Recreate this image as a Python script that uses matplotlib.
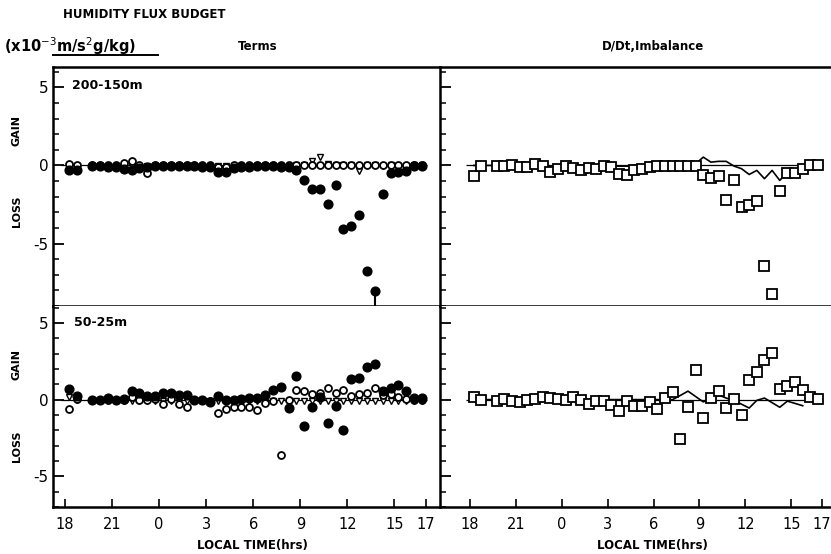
import matplotlib
matplotlib.use('Agg')
import matplotlib.pyplot as plt
import numpy as np
from matplotlib.ticker import MultipleLocator, FixedLocator
from matplotlib.lines import Line2D

# hours since 18 local time
hours = [0.25, 0.75, 1.75, 2.25, 2.75, 3.25, 3.75, 4.25, 4.75, 5.25, 5.75,
         6.25, 6.75, 7.25, 7.75, 8.25, 8.75, 9.25, 9.75, 10.25, 10.75, 11.25,
         11.75, 12.25, 12.75, 13.25, 13.75, 14.25, 14.75, 15.25, 15.75, 16.25,
         16.75, 17.25, 17.75, 18.25, 18.75, 19.25, 19.75, 20.25, 20.75, 21.25,
         21.75, 22.25, 22.75]
tick_pos = [0, 3, 6, 9, 12, 15, 18, 21, 23]
tick_labels = ['18', '21', '0', '3', '6', '9', '12', '15', '17']

# ---- 200-150m, terms ----
filled_top = [-0.3, -0.3, -0.05, -0.05, -0.1, -0.1, -0.25, -0.3, -0.15, -0.1, -0.05,
              -0.05, -0.05, -0.05, -0.05, -0.05, -0.1, -0.1, -0.45, -0.45, -0.15, -0.1,
              -0.1, -0.05, -0.05, -0.05, -0.1, -0.1, -0.3, -0.92, -1.54, -1.5,
              -2.5, -1.24, -4.1, -3.85, -3.2, -6.77, -8.06, -1.82, -0.5, -0.45,
              -0.35, -0.05, -0.05]
open_top = [0.1, 0.05, 0.0, 0.0, 0.0, 0.05, 0.15, 0.28, 0.0, -0.5, 0.0,
            0.0, 0.0, 0.0, 0.0, 0.0, 0.0, 0.0, -0.1, -0.1, 0.0, 0.0,
            0.0, 0.0, 0.0, 0.0, 0.0, 0.0, 0.0, 0.05, 0.05, 0.05,
            0.05, 0.05, 0.05, 0.05, 0.05, 0.05, 0.05, 0.0, 0.0, 0.0,
            0.0, 0.0, 0.0]
tri_top = [-0.05, -0.05, -0.05, -0.05, -0.05, -0.05, -0.05, -0.05, -0.05, -0.05, -0.05,
           -0.05, -0.05, -0.05, -0.05, -0.05, -0.05, -0.05, -0.05, -0.05, -0.05, -0.05,
           -0.05, -0.05, -0.05, -0.05, -0.05, -0.05, 0.0, 0.05, 0.3, 0.55,
           0.1, 0.0, 0.0, 0.0, -0.35, 0.0, 0.0, -0.05, 0.0, -0.05,
           -0.05, 0.0, 0.0]

# ---- 200-150m, D/Dt and imbalance ----
ddt_top = [0.0, 0.0, 0.0, 0.05, 0.0, 0.0, 0.05, 0.05, 0.0, -0.05, 0.0,
           0.0, 0.0, 0.0, 0.0, 0.0, 0.0, 0.0, -0.05, -0.05, 0.0, 0.0,
           0.0, 0.0, 0.0, 0.0, 0.0, 0.0, 0.1, 0.53, 0.21, 0.26,
           0.26, -0.04, -0.21, -0.58, -0.32, -0.85, -0.32, -0.96, -0.43, -0.3,
           -0.2, 0.0, 0.0]
imb_top = [-0.7, -0.06, -0.06, -0.06, 0.0, -0.11, -0.11, 0.1, -0.06, -0.43, -0.21,
           -0.06, -0.15, -0.32, -0.17, -0.26, -0.06, -0.1, -0.53, -0.64, -0.28, -0.21,
           -0.1, -0.06, -0.06, -0.06, -0.06, -0.06, -0.06, -0.6, -0.79, -0.7,
           -2.2, -0.92, -2.67, -2.56, -2.29, -6.47, -8.22, -1.64, -0.49, -0.49,
           -0.26, 0.04, 0.04]

# ---- 50-25m, terms ----
filled_bot = [0.69, 0.26, -0.05, 0.0, 0.1, 0.0, 0.05, 0.58, 0.4, 0.23, 0.25,
              0.4, 0.4, 0.32, 0.32, 0.0, 0.0, -0.15, 0.25, 0.0, 0.0, 0.06,
              0.13, 0.13, 0.3, 0.62, 0.84, -0.55, 1.52, -1.75, -0.5, 0.15,
              -1.53, -0.43, -1.96, 1.33, 1.44, 2.15, 2.34, 0.54, 0.73, 0.94,
              0.54, 0.1, 0.1]
open_bot = [-0.6, 0.05, 0.0, 0.0, 0.0, 0.0, 0.0, 0.2, 0.0, 0.0, 0.05,
            -0.3, 0.05, -0.3, -0.5, 0.0, 0.0, -0.1, -0.9, -0.6, -0.5, -0.5,
            -0.5, -0.65, -0.2, -0.1, -3.6, 0.0, 0.6, 0.58, 0.35, 0.4,
            0.75, 0.4, 0.6, 0.25, 0.35, 0.45, 0.75, 0.3, 0.35, 0.2,
            0.05, 0.0, 0.0]
tri_bot = [0.2, -0.05, -0.1, -0.1, -0.1, -0.1, -0.1, -0.1, -0.1, -0.1, -0.1,
           -0.1, -0.1, -0.1, -0.1, -0.1, -0.1, -0.1, -0.1, -0.1, -0.1, -0.1,
           -0.1, -0.1, -0.1, -0.1, -0.1, -0.1, -0.1, -0.1, -0.1, -0.1,
           -0.1, -0.1, -0.1, -0.1, -0.1, -0.1, -0.1, -0.1, -0.1, -0.1,
           -0.1, -0.1, -0.1]

# ---- 50-25m, D/Dt and imbalance ----
ddt_bot = [0.0, 0.0, 0.0, 0.0, 0.0, 0.0, 0.0, 0.05, 0.05, 0.05, 0.05,
           0.05, 0.05, 0.0, 0.0, 0.0, 0.0, 0.0, 0.0, 0.0, 0.0, 0.0,
           0.0, 0.0, 0.0, 0.0, 0.27, 0.55, 0.2, -0.15, 0.05, 0.3,
           0.1, -0.05, -0.3, -0.55, -0.05, 0.1, -0.2, -0.5, -0.1, -0.25,
           -0.4, np.nan, np.nan]
imb_bot = [0.19, -0.02, -0.06, 0.04, -0.11, -0.13, -0.02, 0.04, 0.2, 0.08, 0.04,
           0.0, 0.19, -0.02, -0.28, -0.06, -0.11, -0.32, -0.75, -0.11, -0.39, -0.39,
           -0.13, -0.6, 0.11, 0.52, -2.56, -0.5, 1.91, -1.18, 0.08, 0.58,
           -0.56, 0.04, -0.99, 1.29, 1.81, 2.58, 3.05, 0.68, 0.9, 1.13,
           0.62, 0.15, 0.04]

W, H = 831, 554
fig = plt.figure(figsize=(W / 100, H / 100), dpi=100)

def frac(x0, y0, x1, y1):
    return [x0 / W, 1 - y1 / H, (x1 - x0) / W, (y1 - y0) / H]

axTL = fig.add_axes(frac(53, 67, 440, 306))
axBL = fig.add_axes(frac(53, 306, 440, 507))
axTR = fig.add_axes(frac(440, 67, 831, 306))
axBR = fig.add_axes(frac(440, 306, 831, 507))

XL = (-0.76, 23.9)
XR = (-1.96, 23.6)
YT = (-9.0, 6.3)
YB = (-7.0, 6.1)

def style(ax, xlim, ylim, bottom, left):
    ax.set_xlim(xlim)
    ax.set_ylim(ylim)
    ax.set_facecolor('white')
    ax.yaxis.set_major_locator(FixedLocator([-5, 0, 5]))
    ax.yaxis.set_minor_locator(MultipleLocator(1))
    ax.tick_params(axis='y', which='major', direction='in', length=8, width=1.3,
                   labelsize=11, pad=3, labelleft=left)
    ax.tick_params(axis='y', which='minor', direction='in', length=4.5, width=1.1)
    if left:
        ax.set_yticklabels(['-5', '0', '5'])
    if bottom:
        ax.set_xticks(tick_pos)
        ax.set_xticklabels(tick_labels)
        ax.tick_params(axis='x', which='major', direction='in', length=6, width=1.2,
                       labelsize=10.5, pad=7)
    else:
        ax.set_xticks([])
    for s in ax.spines.values():
        s.set_linewidth(1.8)
        s.set_color('black')
    ax.spines['right'].set_visible(False)
    ax.hlines(0, hours[0] - 0.5, hours[-1] + 0.3, color='black', lw=0.9, zorder=1)

style(axTL, XL, YT, False, True)
style(axBL, XL, YB, True, True)
style(axTR, XR, YT, False, False)
style(axBR, XR, YB, True, False)
axBL.spines['top'].set_visible(False)
axBR.spines['top'].set_visible(False)

def terms(ax, filled, opn, tri):
    ax.plot(hours, tri, 'v', ms=5.0, mfc='white', mec='black', mew=1.0, ls='none', zorder=3)
    ax.plot(hours, opn, 'o', ms=5.0, mfc='white', mec='black', mew=1.3, ls='none', zorder=4)
    ax.plot(hours, filled, 'o', ms=6.3, mfc='black', mec='black', ls='none', zorder=5)

def budget(ax, ddt, imb):
    ax.plot(hours, ddt, '-', color='black', lw=1.2, zorder=3)
    ax.plot(hours, imb, 's', ms=7, mfc='white', mec='black', mew=1.3, ls='none', zorder=4)

terms(axTL, filled_top, open_top, tri_top)
terms(axBL, filled_bot, open_bot, tri_bot)
budget(axTR, ddt_top, imb_top)
budget(axBR, ddt_bot, imb_bot)

# off-scale markers
i = int(np.argmin(filled_top))
axTL.vlines(hours[i], YT[0], filled_top[i], color='black', lw=1.5, zorder=4)
j = int(np.argmin(imb_top))
axTR.vlines(hours[j], YT[0] + 0.5, imb_top[j], color='black', lw=1.2, zorder=3)

# text
fig.text(63 / W, 1 - 14 / H, 'HUMIDITY FLUX BUDGET', fontsize=8.5, fontweight='bold',
         ha='left', va='center')
fig.text(4 / W, 1 - 46 / H, r'(x10$^{-3}$m/s$^{2}$g/kg)', fontsize=10.5, fontweight='bold',
         ha='left', va='center')
fig.add_artist(Line2D([53 / W, 158 / W], [1 - 55 / H, 1 - 55 / H], color='black', lw=1.4))
fig.text(258 / W, 1 - 46 / H, 'Terms', fontsize=8.5, fontweight='bold', ha='center', va='center')
fig.text(653 / W, 1 - 46 / H, 'D/Dt,Imbalance', fontsize=8.5, fontweight='bold',
         ha='center', va='center')
axTL.text(0.05, 0.95, '200-150m', transform=axTL.transAxes, fontsize=9, fontweight='bold',
          ha='left', va='top')
axBL.text(0.055, 0.95, '50-25m', transform=axBL.transAxes, fontsize=9, fontweight='bold',
          ha='left', va='top')
for yc in (130, 365):
    fig.text(17 / W, 1 - yc / H, 'GAIN', rotation=90, fontsize=8, fontweight='bold',
             ha='center', va='center')
for yc in (211, 446):
    fig.text(17 / W, 1 - yc / H, 'LOSS', rotation=90, fontsize=8, fontweight='bold',
             ha='center', va='center')
fig.text(252 / W, 1 - 545 / H, 'LOCAL TIME(hrs)', fontsize=8.5, fontweight='bold',
         ha='center', va='center')
fig.text(652 / W, 1 - 545 / H, 'LOCAL TIME(hrs)', fontsize=8.5, fontweight='bold',
         ha='center', va='center')

fig.savefig('out.png', dpi=100, facecolor='white')
